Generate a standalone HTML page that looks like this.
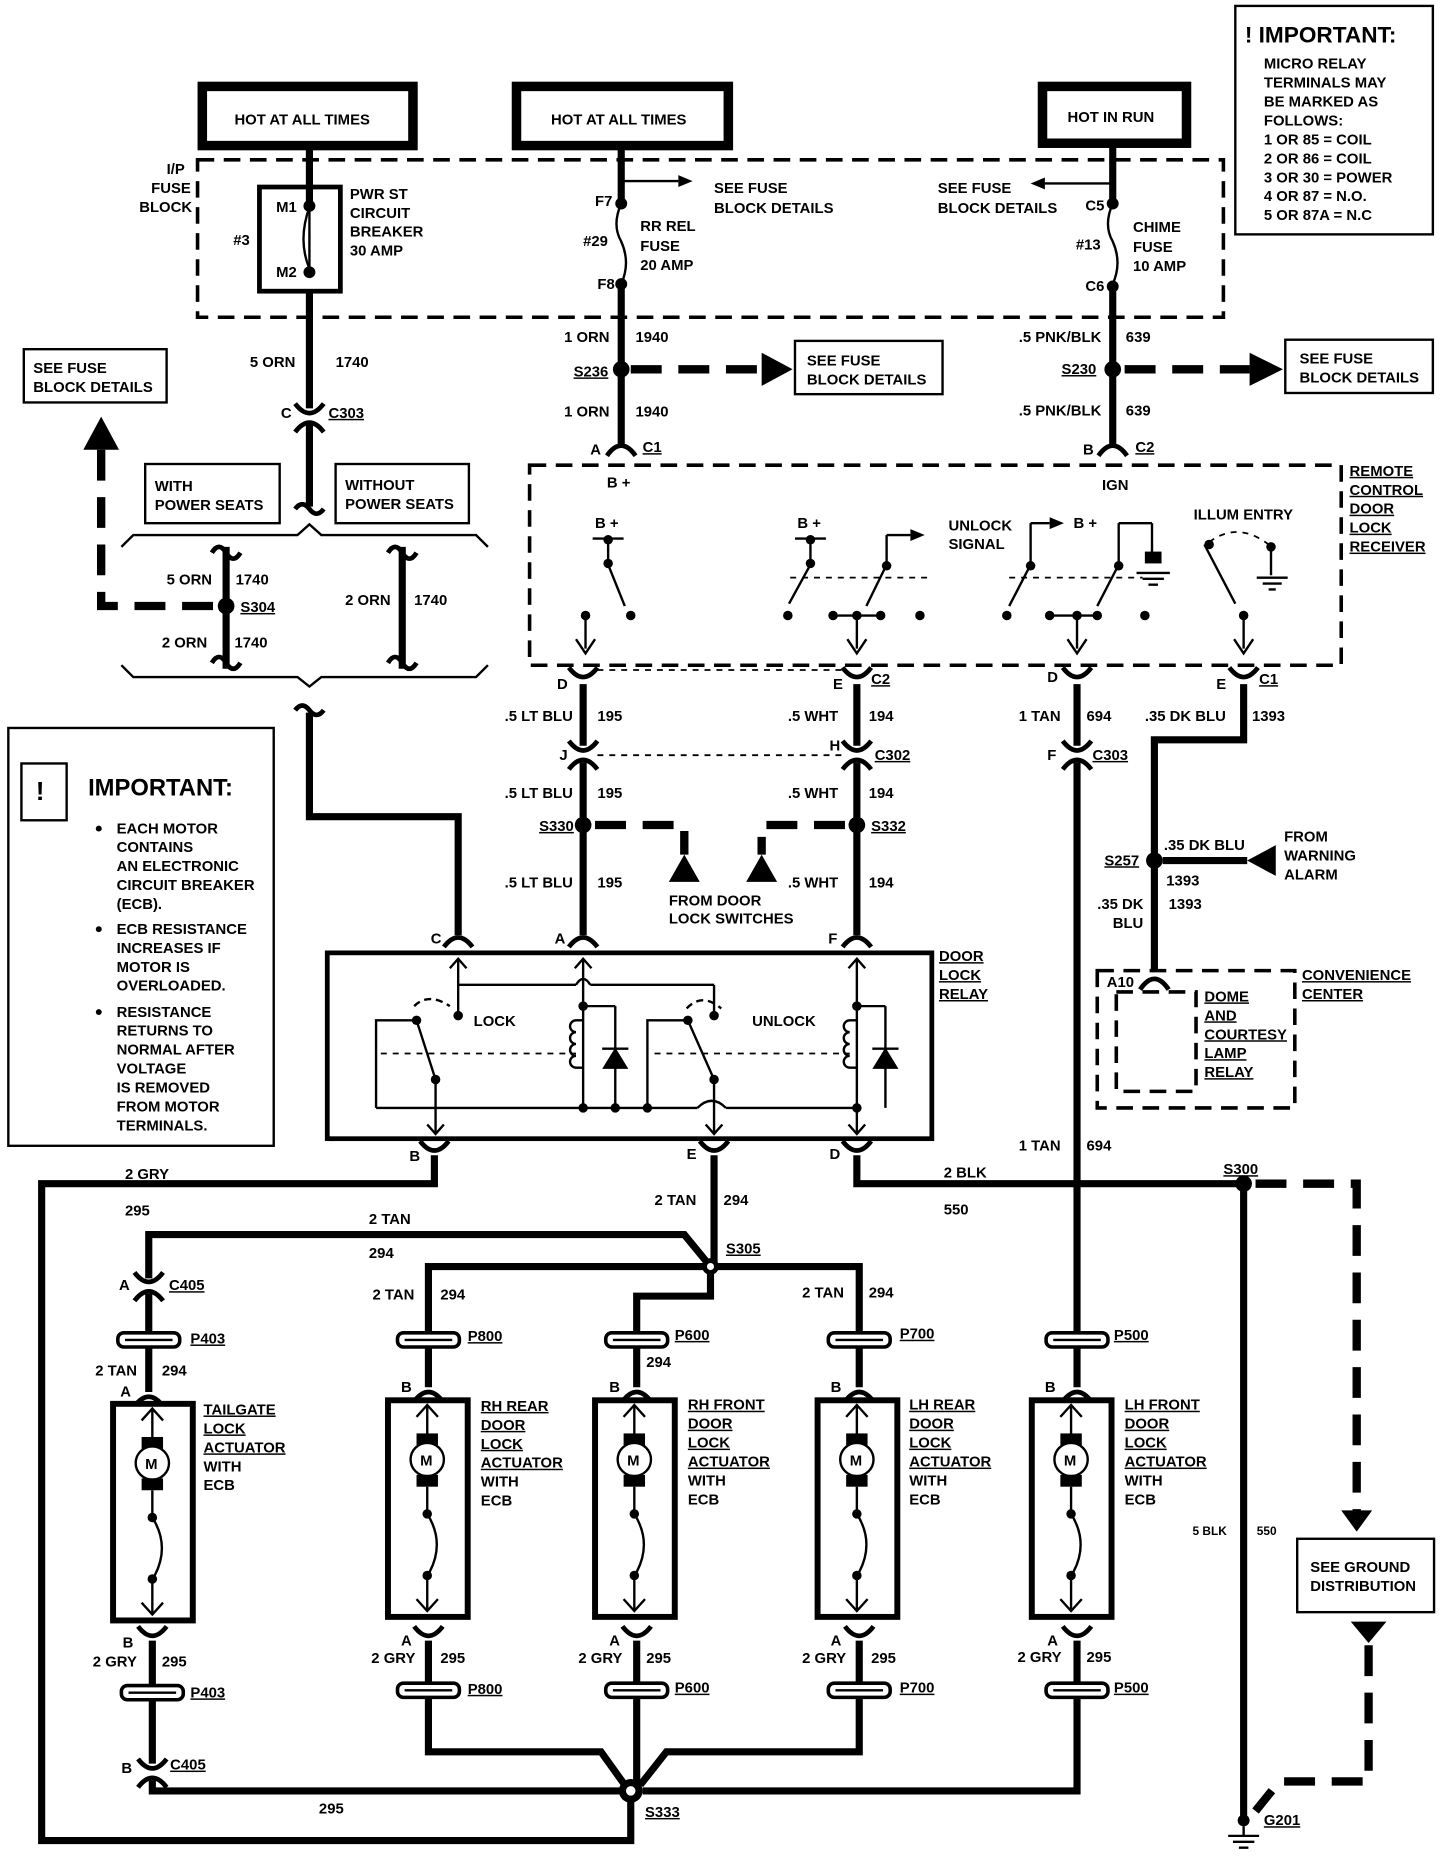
<!DOCTYPE html>
<html><head><meta charset="utf-8"><style>
html,body{margin:0;padding:0;background:#fff}
svg{display:block}
text{font-family:"Liberation Sans",sans-serif;font-weight:bold;font-size:12.5px;fill:#000}
.w{stroke:#000;stroke-width:6;fill:none}
.t{stroke:#000;stroke-width:2;fill:none}
.d{stroke:#000;stroke-width:3;fill:none;stroke-dasharray:14 8}
.dd{stroke:#000;stroke-width:7;fill:none;stroke-dasharray:26 14}
.th{stroke:#000;stroke-width:1.5;fill:none;stroke-dasharray:5 5}
.b{stroke:#000;stroke-width:2;fill:#fff}
.hb{stroke:#000;stroke-width:8;fill:#fff}
</style></head><body>
<svg width="1440" height="1856" viewBox="0 0 1210 1568" preserveAspectRatio="none" xmlns="http://www.w3.org/2000/svg">
<defs>
 <path id="cu" d="M-12,8 Q0,-8 12,8" stroke="#000" stroke-width="4" fill="none"/>
 <path id="cdn" d="M-12,-8 Q0,8 12,-8" stroke="#000" stroke-width="4" fill="none"/>
 <g id="pp"><rect x="-26" y="-6" width="52" height="12" rx="5" fill="#fff" stroke="#000" stroke-width="3"/><line x1="-20" y1="0" x2="20" y2="0" stroke="#000" stroke-width="2"/></g>
 <g id="act">
  <rect x="0" y="0" width="67" height="183" fill="#fff" stroke="#000" stroke-width="5"/>
  <line x1="33" y1="4" x2="33" y2="30" stroke="#000" stroke-width="2"/>
  <path d="M24,14 L33,4 L42,14" stroke="#000" stroke-width="2" fill="none"/>
  <rect x="24" y="28" width="18" height="10" fill="#000"/>
  <circle cx="33" cy="50" r="14" fill="#fff" stroke="#000" stroke-width="2"/>
  <text x="27" y="55">M</text>
  <rect x="24" y="63" width="18" height="10" fill="#000"/>
  <line x1="33" y1="73" x2="33" y2="95" stroke="#000" stroke-width="2"/>
  <circle cx="33" cy="96" r="4"/>
  <path d="M33,96 Q48,120 35,145" stroke="#000" stroke-width="2" fill="none"/>
  <circle cx="33" cy="148" r="4"/>
  <line x1="33" y1="148" x2="33" y2="178" stroke="#000" stroke-width="2"/>
  <path d="M24,168 L33,178 L42,168" stroke="#000" stroke-width="2" fill="none"/>
 </g>
</defs>

<rect x="1038" y="5" width="166" height="193" class="b"/>
<text x="1046" y="36" style="font-size:19px">! IMPORTANT:</text>
<text x="1062" y="58">MICRO RELAY</text>
<text x="1062" y="74">TERMINALS MAY</text>
<text x="1062" y="90">BE MARKED AS</text>
<text x="1062" y="106">FOLLOWS:</text>
<text x="1062" y="122">1 OR 85 = COIL</text>
<text x="1062" y="138">2 OR 86 = COIL</text>
<text x="1062" y="154">3 OR 30 = POWER</text>
<text x="1062" y="170">4 OR 87 = N.O.</text>
<text x="1062" y="186">5 OR 87A = N.C</text>

<rect x="170" y="73" width="177" height="50" class="hb"/><text x="197" y="105">HOT AT ALL TIMES</text>
<rect x="434" y="73" width="178" height="50" class="hb"/><text x="463" y="105">HOT AT ALL TIMES</text>
<rect x="876" y="73" width="121" height="48" class="hb"/><text x="897" y="103">HOT IN RUN</text>

<rect x="166" y="135" width="862" height="133" class="d"/>
<text x="140" y="147">I/P</text><text x="127" y="163">FUSE</text><text x="117" y="179">BLOCK</text>
<rect x="218" y="158" width="68" height="88" fill="none" stroke="#000" stroke-width="4"/>
<line x1="260" y1="123" x2="260" y2="172" class="w"/>
<line x1="260" y1="172" x2="260" y2="230" class="t"/>
<path d="M260,175 q-10,28 0,52" class="t"/>
<circle cx="260" cy="174" r="5"/><circle cx="260" cy="230" r="5"/>
<text x="232" y="179">M1</text><text x="232" y="234">M2</text><text x="196" y="207">#3</text>
<text x="294" y="168">PWR ST</text><text x="294" y="184">CIRCUIT</text><text x="294" y="200">BREAKER</text><text x="294" y="216">30 AMP</text>

<line x1="522" y1="123" x2="522" y2="172" class="w"/>
<circle cx="522" cy="172" r="5"/><line x1="522" y1="153" x2="570" y2="153" class="t"/><path d="M570,148 L582,153 L570,158Z"/>
<path d="M522,172 q-8,18 0,32 q8,18 0,36" class="t"/>
<circle cx="522" cy="240" r="5"/>
<text x="500" y="174">F7</text><text x="490" y="208">#29</text><text x="502" y="244">F8</text>
<text x="538" y="195">RR REL</text><text x="538" y="212">FUSE</text><text x="538" y="228">20 AMP</text>
<text x="600" y="163">SEE FUSE</text><text x="600" y="180">BLOCK DETAILS</text>

<line x1="935" y1="121" x2="935" y2="172" class="w"/>
<circle cx="935" cy="172" r="5"/><line x1="935" y1="155" x2="878" y2="155" class="t"/><path d="M878,150 L866,155 L878,160Z"/>
<path d="M935,172 q-8,18 0,32 q8,18 0,36" class="t"/>
<circle cx="935" cy="242" r="5"/>
<text x="912" y="178">C5</text><text x="904" y="211">#13</text><text x="912" y="246">C6</text>
<text x="952" y="196">CHIME</text><text x="952" y="213">FUSE</text><text x="952" y="229">10 AMP</text>
<text x="788" y="163">SEE FUSE</text><text x="788" y="180">BLOCK DETAILS</text>

<line x1="260" y1="246" x2="260" y2="345" class="w"/>
<use href="#cdn" x="260" y="349"/><use href="#cu" x="260" y="357"/>
<line x1="260" y1="358" x2="260" y2="428" class="w"/>
<path d="M248,430 q6,-8 12,0 q6,8 12,0" class="w" style="stroke-width:4"/>
<text x="210" y="310">5 ORN</text><text x="282" y="310">1740</text>
<text x="236" y="353">C</text><text x="276" y="353" text-decoration="underline">C303</text>

<rect x="20" y="295" width="120" height="45" class="b"/>
<text x="28" y="315">SEE FUSE</text><text x="28" y="331">BLOCK DETAILS</text>
<path d="M85,352 L70,380 L100,380Z"/>
<path d="M85,380 L85,512 L185,512" class="dd"/>

<rect x="122" y="392" width="113" height="50" class="b"/><text x="130" y="415">WITH</text><text x="130" y="431">POWER SEATS</text>
<rect x="282" y="392" width="112" height="50" class="b"/><text x="290" y="414">WITHOUT</text><text x="290" y="430">POWER SEATS</text>
<path d="M102,462 L112,452 L250,452 L260,443 L270,452 L400,452 L410,462" class="t"/>
<path d="M102,562 L112,572 L250,572 L260,580 L270,572 L400,572 L410,562" class="t"/>
<line x1="190" y1="462" x2="190" y2="565" class="w"/>
<path d="M178,467 q6,-10 12,0 q6,10 12,0" class="w" style="stroke-width:4"/>
<path d="M178,560 q6,-10 12,0 q6,10 12,0" class="w" style="stroke-width:4"/>
<circle cx="190" cy="512" r="7" fill="#000"/><rect x="184" y="508" width="12" height="8" fill="#000"/>
<text x="140" y="494">5 ORN</text><text x="198" y="494">1740</text>
<text x="202" y="517" text-decoration="underline">S304</text>
<text x="136" y="547">2 ORN</text><text x="197" y="547">1740</text>
<line x1="338" y1="462" x2="338" y2="565" class="w"/>
<path d="M326,467 q6,-10 12,0 q6,10 12,0" class="w" style="stroke-width:4"/>
<path d="M326,560 q6,-10 12,0 q6,10 12,0" class="w" style="stroke-width:4"/>
<text x="290" y="511">2 ORN</text><text x="348" y="511">1740</text>
<path d="M248,600 q6,-8 12,0 q6,8 12,0" class="w" style="stroke-width:4"/>
<path d="M260,602 L260,690 L385,690 L385,790" class="w"/>

<line x1="522" y1="240" x2="522" y2="375" class="w"/>
<circle cx="522" cy="312" r="7"/>
<text x="474" y="289">1 ORN</text><text x="534" y="289">1940</text>
<text x="482" y="318" text-decoration="underline">S236</text>
<text x="474" y="352">1 ORN</text><text x="534" y="352">1940</text>
<path d="M510,385 Q522,368 534,385" class="w" style="stroke-width:4"/>
<text x="496" y="384">A</text><text x="540" y="382" text-decoration="underline">C1</text>
<path d="M530,312 L640,312" class="dd"/><path d="M640,298 L666,312 L640,326Z"/>
<rect x="668" y="288" width="124" height="45" class="b"/><text x="678" y="309">SEE FUSE</text><text x="678" y="325">BLOCK DETAILS</text>

<line x1="935" y1="242" x2="935" y2="375" class="w"/>
<circle cx="935" cy="312" r="7"/>
<text x="856" y="289">.5 PNK/BLK</text><text x="946" y="289">639</text>
<text x="892" y="316" text-decoration="underline">S230</text>
<text x="856" y="351">.5 PNK/BLK</text><text x="946" y="351">639</text>
<path d="M923,385 Q935,368 947,385" class="w" style="stroke-width:4"/>
<text x="910" y="384">B</text><text x="954" y="382" text-decoration="underline">C2</text>
<path d="M945,312 L1050,312" class="dd"/><path d="M1050,298 L1078,312 L1050,326Z"/>
<rect x="1080" y="287" width="124" height="45" class="b"/><text x="1092" y="307">SEE FUSE</text><text x="1092" y="323">BLOCK DETAILS</text>

<rect x="445" y="393" width="682" height="169" class="d"/>
<text x="510" y="412">B +</text><text x="926" y="414">IGN</text>
<text x="1134" y="402" text-decoration="underline">REMOTE</text><text x="1134" y="418" text-decoration="underline">CONTROL</text>
<text x="1134" y="434" text-decoration="underline">DOOR</text><text x="1134" y="450" text-decoration="underline">LOCK</text><text x="1134" y="466" text-decoration="underline">RECEIVER</text>
<g class="t">
<text x="500" y="446" style="stroke:none">B +</text>
<line x1="498" y1="455" x2="524" y2="455"/><line x1="511" y1="455" x2="511" y2="475"/><line x1="511" y1="477" x2="525" y2="512"/>
<line x1="492" y1="520" x2="492" y2="548"/>
<text x="670" y="446" style="stroke:none">B +</text>
<line x1="668" y1="455" x2="694" y2="455"/><line x1="681" y1="455" x2="681" y2="475"/><line x1="681" y1="477" x2="663" y2="510"/>
<line x1="745" y1="477" x2="728" y2="512"/><line x1="745" y1="477" x2="745" y2="452"/><line x1="745" y1="452" x2="765" y2="452"/>
<line x1="720" y1="520" x2="720" y2="548"/><line x1="700" y1="520" x2="740" y2="520"/>
<line x1="866" y1="477" x2="848" y2="512"/><line x1="866" y1="477" x2="866" y2="442"/><line x1="866" y1="442" x2="882" y2="442"/>
<line x1="940" y1="477" x2="922" y2="512"/><line x1="940" y1="477" x2="940" y2="442"/><line x1="940" y1="442" x2="968" y2="442"/><line x1="968" y1="442" x2="968" y2="470"/>
<line x1="905" y1="520" x2="905" y2="548"/><line x1="882" y1="520" x2="922" y2="520"/>
<line x1="1012" y1="460" x2="1038" y2="510"/><line x1="1045" y1="520" x2="1045" y2="548"/>
<line x1="1068" y1="462" x2="1068" y2="486"/>
</g>
<path d="M765,447 L777,452 L765,457Z"/><path d="M882,437 L894,442 L882,447Z"/>
<text x="797" y="448">UNLOCK</text><text x="797" y="464">SIGNAL</text><text x="902" y="446">B +</text>
<text x="1003" y="439">ILLUM ENTRY</text>
<path d="M1016,458 Q1040,440 1066,460" class="th"/>
<g fill="#000"><circle cx="511" cy="456" r="4"/><circle cx="511" cy="476" r="4"/><circle cx="492" cy="520" r="4"/><circle cx="530" cy="520" r="4"/>
<circle cx="681" cy="456" r="4"/><circle cx="681" cy="476" r="4"/><circle cx="662" cy="520" r="4"/><circle cx="700" cy="520" r="4"/><circle cx="740" cy="520" r="4"/><circle cx="745" cy="478" r="4"/><circle cx="773" cy="520" r="4"/><circle cx="720" cy="520" r="4"/>
<circle cx="866" cy="478" r="4"/><circle cx="846" cy="520" r="4"/><circle cx="882" cy="520" r="4"/><circle cx="905" cy="520" r="4"/><circle cx="922" cy="520" r="4"/><circle cx="940" cy="478" r="4"/><circle cx="962" cy="520" r="4"/>
<circle cx="1016" cy="460" r="4"/><circle cx="1045" cy="520" r="4"/><circle cx="1068" cy="462" r="4"/></g>
<rect x="962" y="466" width="14" height="10" fill="#000"/>
<path d="M955,484 h28 M960,489 h18 M965,494 h8 M1056,488 h26 M1061,493 h16 M1066,498 h6" class="t"/>
<path d="M664,488 L780,488 M848,488 L960,488" class="th"/>
<path d="M484,540 L492,552 L500,540 M712,540 L720,552 L728,540 M897,540 L905,552 L913,540 M1037,540 L1045,552 L1053,540" class="t"/>

<g>
<use href="#cdn" x="490" y="572"/><use href="#cdn" x="720" y="572"/><use href="#cdn" x="905" y="572"/><use href="#cdn" x="1045" y="572"/>
</g>
<path d="M502,566 L708,566" class="th"/>
<text x="468" y="582">D</text><text x="700" y="582">E</text><text x="732" y="578" text-decoration="underline">C2</text>
<text x="880" y="576">D</text><text x="1022" y="582">E</text><text x="1058" y="578" text-decoration="underline">C1</text>
<line x1="490" y1="578" x2="490" y2="630" class="w"/>
<line x1="720" y1="578" x2="720" y2="630" class="w"/>
<line x1="905" y1="578" x2="905" y2="630" class="w"/>
<path d="M1045,578 L1045,625 L970,625 L970,820" class="w"/>
<text x="424" y="609">.5 LT BLU</text><text x="502" y="609">195</text>
<text x="662" y="609">.5 WHT</text><text x="730" y="609">194</text>
<text x="856" y="609">1 TAN</text><text x="913" y="609">694</text>
<text x="962" y="609">.35 DK BLU</text><text x="1052" y="609">1393</text>
<use href="#cdn" x="490" y="634"/><use href="#cu" x="490" y="642"/>
<use href="#cdn" x="720" y="634"/><use href="#cu" x="720" y="642"/>
<use href="#cdn" x="905" y="634"/><use href="#cu" x="905" y="642"/>
<path d="M502,638 L708,638" class="th"/>
<text x="470" y="642">J</text><text x="697" y="634">H</text><text x="735" y="642" text-decoration="underline">C302</text>
<text x="880" y="642">F</text><text x="918" y="642" text-decoration="underline">C303</text>
<line x1="490" y1="644" x2="490" y2="790" class="w"/>
<line x1="720" y1="644" x2="720" y2="790" class="w"/>
<line x1="905" y1="644" x2="905" y2="1126" class="w"/>
<text x="424" y="674">.5 LT BLU</text><text x="502" y="674">195</text>
<text x="662" y="674">.5 WHT</text><text x="730" y="674">194</text>
<circle cx="490" cy="697" r="7"/><circle cx="720" cy="697" r="7"/>
<text x="453" y="702" text-decoration="underline">S330</text><text x="732" y="702" text-decoration="underline">S332</text>
<path d="M500,697 L575,697 L575,722 M710,697 L640,697 L640,722" class="dd"/>
<path d="M562,745 L575,722 L588,745Z M627,745 L640,722 L653,745Z"/>
<text x="562" y="765">FROM DOOR</text><text x="562" y="780">LOCK SWITCHES</text>
<text x="424" y="750">.5 LT BLU</text><text x="502" y="750">195</text>
<text x="662" y="750">.5 WHT</text><text x="730" y="750">194</text>

<text x="856" y="972">1 TAN</text><text x="913" y="972">694</text>

<circle cx="970" cy="727" r="7"/>
<text x="928" y="731" text-decoration="underline">S257</text>
<text x="978" y="718">.35 DK BLU</text><text x="980" y="748">1393</text>
<text x="922" y="768">.35 DK</text><text x="935" y="784">BLU</text><text x="982" y="768">1393</text>
<line x1="977" y1="727" x2="1048" y2="727" class="w"/><path d="M1048,714 L1072,727 L1048,740Z" transform="rotate(180 1060 727)"/>
<text x="1079" y="711">FROM</text><text x="1079" y="727">WARNING</text><text x="1079" y="743">ALARM</text>

<rect x="922" y="820" width="166" height="116" class="d"/>
<rect x="938" y="838" width="67" height="84" class="d"/>
<path d="M958,836 Q970,818 982,836" class="w" style="stroke-width:4"/>
<text x="930" y="834">A10</text>
<text x="1094" y="828" text-decoration="underline">CONVENIENCE</text><text x="1094" y="844" text-decoration="underline">CENTER</text>
<text x="1012" y="846" text-decoration="underline">DOME</text><text x="1012" y="862" text-decoration="underline">AND</text>
<text x="1012" y="878" text-decoration="underline">COURTESY</text><text x="1012" y="894" text-decoration="underline">LAMP</text><text x="1012" y="910" text-decoration="underline">RELAY</text>

<rect x="7" y="615" width="223" height="353" class="b"/>
<rect x="18" y="645" width="38" height="48" fill="none" stroke="#000" stroke-width="2"/>
<text x="30" y="676" style="font-size:22px">!</text>
<text x="74" y="672" style="font-size:20px">IMPORTANT:</text>
<circle cx="83" cy="700" r="2.5"/><circle cx="83" cy="785" r="2.5"/><circle cx="83" cy="855" r="2.5"/>
<text x="98" y="704">EACH MOTOR</text><text x="98" y="720">CONTAINS</text><text x="98" y="736">AN ELECTRONIC</text><text x="98" y="752">CIRCUIT BREAKER</text><text x="98" y="768">(ECB).</text>
<text x="98" y="789">ECB RESISTANCE</text><text x="98" y="805">INCREASES IF</text><text x="98" y="821">MOTOR IS</text><text x="98" y="837">OVERLOADED.</text>
<text x="98" y="859">RESISTANCE</text><text x="98" y="875">RETURNS TO</text><text x="98" y="891">NORMAL AFTER</text><text x="98" y="907">VOLTAGE</text><text x="98" y="923">IS REMOVED</text><text x="98" y="939">FROM MOTOR</text><text x="98" y="955">TERMINALS.</text>

<path d="M373,800 Q385,784 397,800 M478,800 Q490,784 502,800 M708,800 Q720,784 732,800" class="w" style="stroke-width:4"/>
<text x="362" y="797">C</text><text x="466" y="797">A</text><text x="696" y="797">F</text>
<rect x="275" y="805" width="508" height="157" fill="#fff" stroke="#000" stroke-width="4"/>
<text x="789" y="812" text-decoration="underline">DOOR</text><text x="789" y="828" text-decoration="underline">LOCK</text><text x="789" y="844" text-decoration="underline">RELAY</text>
<g class="t">
<line x1="385" y1="810" x2="385" y2="858"/><path d="M378,818 L385,810 L392,818"/>
<line x1="385" y1="832" x2="484" y2="832"/><path d="M484,832 q6,-10 12,0"/><line x1="496" y1="832" x2="600" y2="832"/><line x1="600" y1="832" x2="600" y2="858"/>
<line x1="490" y1="810" x2="490" y2="936"/><path d="M483,818 L490,810 L497,818"/>
<line x1="490" y1="850" x2="517" y2="850"/><line x1="517" y1="850" x2="517" y2="936"/>
<path d="M490,862 h-6 a5,5 0 0 0 0,10 a5,5 0 0 0 0,10 a5,5 0 0 0 0,10 a5,5 0 0 0 0,10 h6"/>
<line x1="720" y1="810" x2="720" y2="958"/><path d="M713,818 L720,810 L727,818 M713,950 L720,958 L727,950"/>
<line x1="720" y1="850" x2="744" y2="850"/><line x1="744" y1="850" x2="744" y2="936"/>
<path d="M720,862 h-6 a5,5 0 0 0 0,10 a5,5 0 0 0 0,10 a5,5 0 0 0 0,10 a5,5 0 0 0 0,10 h6"/>
<path d="M316,936 L316,862 L350,862 L366,912 L366,936"/>
<line x1="316" y1="936" x2="586" y2="936"/><path d="M586,936 q12,-12 24,0"/><line x1="610" y1="936" x2="720" y2="936"/>
<line x1="366" y1="936" x2="366" y2="958"/><path d="M359,950 L366,958 L373,950"/>
<path d="M544,936 L544,862 L578,862 L600,912 L600,958"/><path d="M593,950 L600,958 L607,950"/>
<path d="M348,850 Q360,838 378,850 M577,852 Q590,838 606,852" stroke-dasharray="6 4"/>
</g>
<path d="M320,890 L484,890 M550,890 L714,890" class="th"/>
<path d="M506,903 L528,903 L517,885Z M733,903 L755,903 L744,885Z"/>
<path d="M506,886 h22 M733,886 h22" class="t"/>
<g fill="#000"><circle cx="385" cy="858" r="4"/><circle cx="600" cy="858" r="4"/><circle cx="350" cy="862" r="4"/><circle cx="578" cy="862" r="4"/><circle cx="366" cy="912" r="4"/><circle cx="600" cy="912" r="4"/>
<circle cx="490" cy="850" r="4"/><circle cx="490" cy="936" r="4"/><circle cx="517" cy="936" r="4"/><circle cx="544" cy="936" r="4"/><circle cx="720" cy="850" r="4"/><circle cx="720" cy="936" r="4"/></g>
<text x="398" y="867">LOCK</text><text x="632" y="867">UNLOCK</text>

<use href="#cdn" x="365" y="972"/><use href="#cdn" x="600" y="972"/><use href="#cdn" x="720" y="972"/>
<text x="344" y="981">B</text><text x="577" y="979">E</text><text x="697" y="979">D</text>
<path d="M365,976 L365,1000 L35,1000 L35,1555 L530,1555 L530,1515" class="w"/>
<text x="105" y="996">2 GRY</text><text x="105" y="1027">295</text>
<line x1="600" y1="976" x2="600" y2="1070" class="w"/>
<text x="550" y="1018">2 TAN</text><text x="608" y="1018">294</text>
<path d="M720,976 L720,1000 L1045,1000 L1045,1535" class="w"/>
<text x="793" y="995">2 BLK</text><text x="793" y="1026">550</text>
<circle cx="1045" cy="1000" r="7"/><text x="1028" y="992" text-decoration="underline">S300</text>
<path d="M1055,1000 L1140,1000 L1140,1278" class="dd"/><path d="M1127,1276 L1140,1294 L1153,1276Z"/>
<rect x="1090" y="1300" width="115" height="62" class="b"/><text x="1101" y="1328">SEE GROUND</text><text x="1101" y="1344">DISTRIBUTION</text>
<path d="M1135,1370 L1165,1370 L1150,1388Z"/>
<path d="M1150,1390 L1150,1505 L1075,1505 L1055,1530" class="dd"/>
<text x="1002" y="1297" style="font-size:10px">5 BLK</text><text x="1056" y="1297" style="font-size:10px">550</text>
<circle cx="1045" cy="1538" r="5"/><text x="1062" y="1542" text-decoration="underline">G201</text>
<path d="M1045,1543 v8 M1032,1551 h26 M1036,1556 h18 M1041,1561 h8" class="t"/>

<path d="M125,1080 L125,1043 L575,1043 L597,1070" class="w"/>
<path d="M360,1126 L360,1070 L722,1070 L722,1126" class="w"/>
<path d="M597,1070 L597,1095 L535,1095 L535,1126" class="w"/>
<circle cx="597" cy="1070" r="7" fill="#000"/><circle cx="597" cy="1070" r="3" fill="#fff"/>
<text x="610" y="1059" text-decoration="underline">S305</text>
<text x="310" y="1034">2 TAN</text><text x="310" y="1063">294</text>
<text x="313" y="1098">2 TAN</text><text x="370" y="1098">294</text>
<text x="674" y="1096">2 TAN</text><text x="730" y="1096">294</text>
<text x="543" y="1155">294</text>

<use href="#cdn" x="125" y="1083"/><use href="#cu" x="125" y="1091"/>
<text x="100" y="1090">A</text><text x="142" y="1090" text-decoration="underline">C405</text>
<line x1="125" y1="1093" x2="125" y2="1126" class="w"/>

<use href="#pp" x="125" y="1132"/><use href="#pp" x="360" y="1132"/><use href="#pp" x="535" y="1132"/><use href="#pp" x="722" y="1132"/><use href="#pp" x="905" y="1132"/>
<text x="160" y="1135" text-decoration="underline">P403</text><text x="393" y="1133" text-decoration="underline">P800</text><text x="567" y="1132" text-decoration="underline">P600</text><text x="756" y="1131" text-decoration="underline">P700</text><text x="936" y="1132" text-decoration="underline">P500</text>
<g class="w"><line x1="125" y1="1138" x2="125" y2="1176"/><line x1="360" y1="1138" x2="360" y2="1172"/><line x1="535" y1="1138" x2="535" y2="1172"/><line x1="722" y1="1138" x2="722" y2="1172"/><line x1="905" y1="1138" x2="905" y2="1172"/></g>
<text x="80" y="1162">2 TAN</text><text x="136" y="1162">294</text>
<use href="#cu" x="125" y="1180"/><use href="#cu" x="360" y="1176"/><use href="#cu" x="535" y="1176"/><use href="#cu" x="722" y="1176"/><use href="#cu" x="905" y="1176"/>
<text x="101" y="1180">A</text><text x="337" y="1176">B</text><text x="512" y="1176">B</text><text x="698" y="1176">B</text><text x="878" y="1176">B</text>

<use href="#act" x="95" y="1186"/><use href="#act" x="326" y="1183"/><use href="#act" x="500" y="1183"/><use href="#act" x="687" y="1183"/><use href="#act" x="867" y="1183"/>
<g>
<text x="171" y="1195" text-decoration="underline">TAILGATE</text><text x="171" y="1211" text-decoration="underline">LOCK</text><text x="171" y="1227" text-decoration="underline">ACTUATOR</text><text x="171" y="1243">WITH</text><text x="171" y="1259">ECB</text>
<text x="404" y="1192" text-decoration="underline">RH REAR</text><text x="404" y="1208" text-decoration="underline">DOOR</text><text x="404" y="1224" text-decoration="underline">LOCK</text><text x="404" y="1240" text-decoration="underline">ACTUATOR</text><text x="404" y="1256">WITH</text><text x="404" y="1272">ECB</text>
<text x="578" y="1191" text-decoration="underline">RH FRONT</text><text x="578" y="1207" text-decoration="underline">DOOR</text><text x="578" y="1223" text-decoration="underline">LOCK</text><text x="578" y="1239" text-decoration="underline">ACTUATOR</text><text x="578" y="1255">WITH</text><text x="578" y="1271">ECB</text>
<text x="764" y="1191" text-decoration="underline">LH REAR</text><text x="764" y="1207" text-decoration="underline">DOOR</text><text x="764" y="1223" text-decoration="underline">LOCK</text><text x="764" y="1239" text-decoration="underline">ACTUATOR</text><text x="764" y="1255">WITH</text><text x="764" y="1271">ECB</text>
<text x="945" y="1191" text-decoration="underline">LH FRONT</text><text x="945" y="1207" text-decoration="underline">DOOR</text><text x="945" y="1223" text-decoration="underline">LOCK</text><text x="945" y="1239" text-decoration="underline">ACTUATOR</text><text x="945" y="1255">WITH</text><text x="945" y="1271">ECB</text>
</g>

<use href="#cdn" x="128" y="1382"/><use href="#cdn" x="360" y="1382"/><use href="#cdn" x="535" y="1382"/><use href="#cdn" x="722" y="1382"/><use href="#cdn" x="905" y="1382"/>
<text x="103" y="1392">B</text><text x="337" y="1390">A</text><text x="512" y="1390">A</text><text x="698" y="1390">A</text><text x="880" y="1390">A</text>
<g class="w"><line x1="128" y1="1386" x2="128" y2="1424"/><line x1="360" y1="1386" x2="360" y2="1422"/><line x1="535" y1="1386" x2="535" y2="1422"/><line x1="722" y1="1386" x2="722" y2="1422"/><line x1="905" y1="1386" x2="905" y2="1422"/></g>
<text x="78" y="1408">2 GRY</text><text x="136" y="1408">295</text>
<text x="312" y="1405">2 GRY</text><text x="370" y="1405">295</text>
<text x="486" y="1405">2 GRY</text><text x="543" y="1405">295</text>
<text x="674" y="1405">2 GRY</text><text x="732" y="1405">295</text>
<text x="855" y="1404">2 GRY</text><text x="913" y="1404">295</text>
<use href="#pp" x="128" y="1430"/><use href="#pp" x="360" y="1428"/><use href="#pp" x="535" y="1428"/><use href="#pp" x="722" y="1428"/><use href="#pp" x="905" y="1428"/>
<text x="160" y="1434" text-decoration="underline">P403</text><text x="393" y="1431" text-decoration="underline">P800</text><text x="567" y="1430" text-decoration="underline">P600</text><text x="756" y="1430" text-decoration="underline">P700</text><text x="936" y="1430" text-decoration="underline">P500</text>
<line x1="128" y1="1436" x2="128" y2="1490" class="w"/>
<use href="#cdn" x="128" y="1494"/><use href="#cu" x="128" y="1502"/>
<text x="102" y="1498">B</text><text x="143" y="1495" text-decoration="underline">C405</text>
<g class="w">
<path d="M128,1504 L128,1513 L522,1513"/>
<path d="M360,1434 L360,1480 L505,1480 L525,1508"/>
<path d="M535,1434 L535,1506"/>
<path d="M722,1434 L722,1480 L560,1480 L538,1508"/>
<path d="M905,1434 L905,1513 L540,1513"/>
</g>
<circle cx="530" cy="1513" r="10" fill="#000"/><circle cx="530" cy="1513" r="4" fill="#fff"/>
<text x="268" y="1532">295</text>
<text x="542" y="1535" text-decoration="underline">S333</text>
</svg>
</body></html>
